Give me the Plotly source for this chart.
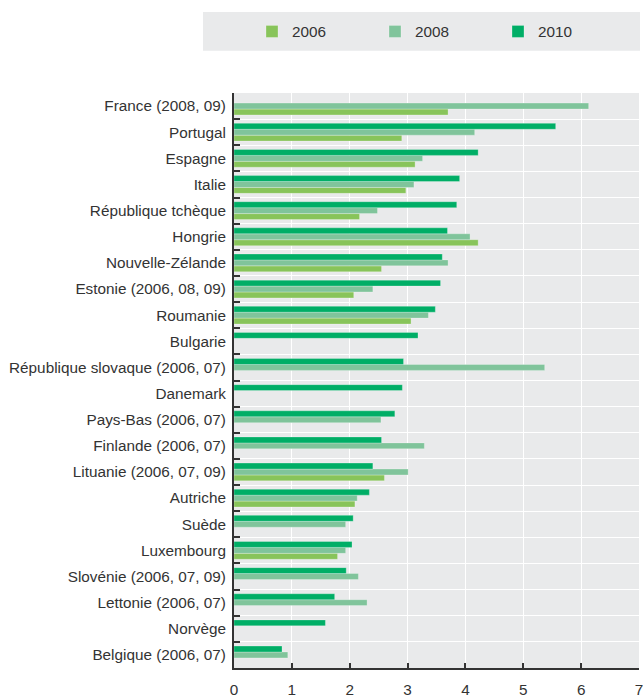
import plotly.graph_objects as go

categories = [
    "France (2008, 09)", "Portugal", "Espagne", "Italie", "République tchèque",
    "Hongrie", "Nouvelle-Zélande", "Estonie (2006, 08, 09)", "Roumanie", "Bulgarie",
    "République slovaque (2006, 07)", "Danemark", "Pays-Bas (2006, 07)",
    "Finlande (2006, 07)", "Lituanie (2006, 07, 09)", "Autriche", "Suède",
    "Luxembourg", "Slovénie (2006, 07, 09)", "Lettonie (2006, 07)", "Norvège",
    "Belgique (2006, 07)",
]
v2006 = [3.70, 2.90, 3.13, 2.97, 2.17, 4.22, 2.55, 2.07, 3.06, None,
         None, None, None, None, 2.60, 2.09, None, 1.79, None, None, None, None]
v2008 = [6.13, 4.16, 3.26, 3.11, 2.48, 4.08, 3.70, 2.40, 3.36, None,
         5.37, None, 2.54, 3.29, 3.01, 2.13, 1.93, 1.93, 2.15, 2.30, None, 0.93]
v2010 = [None, 5.56, 4.22, 3.90, 3.85, 3.69, 3.60, 3.57, 3.48, 3.18,
         2.93, 2.91, 2.78, 2.55, 2.40, 2.34, 2.06, 2.04, 1.94, 1.74, 1.58, 0.83]
series_names = ["2006", "2008", "2010"]
x_ticks = [0, 1, 2, 3, 4, 5, 6, 7]

colors = ["#88C45A", "#80C49B", "#00AE66"]
FONT = "Liberation Sans, Arial, sans-serif"
TXT = "#333333"
FS = 15.3

fig = go.Figure()
for name, vals, col in zip(series_names, [v2006, v2008, v2010], colors):
    fig.add_trace(go.Bar(
        y=categories, x=vals, name=name, orientation="h",
        marker=dict(color=col, line=dict(color="rgba(255,255,255,0.45)", width=0.6)),
    ))

W, H = 643, 698
L, R, T, B = 234, 4, 93, 30
PW, PH = W - L - R, H - T - B

fig.update_layout(
    width=W, height=H,
    margin=dict(l=L, r=R, t=T, b=B, autoexpand=False),
    paper_bgcolor="white",
    plot_bgcolor="#E9EAEB",
    barmode="group",
    bargap=0.32,
    bargroupgap=0,
    font=dict(family=FONT, size=FS, color=TXT),
    showlegend=True,
    legend=dict(
        orientation="h",
        x=(252 - L) / PW, xanchor="left",
        y=1 + (T - 15) / PH, yanchor="top",
        bgcolor="rgba(0,0,0,0)",
        entrywidth=78,
        font=dict(family=FONT, size=FS, color=TXT),
        traceorder="normal",
    ),
    xaxis=dict(
        range=[0, 7], tickvals=x_ticks, ticktext=[str(t) for t in x_ticks],
        showgrid=True, gridcolor="white", gridwidth=1.2,
        zeroline=False,
        showline=True, linecolor="#333333", linewidth=2,
        ticks="inside", ticklen=5, tickcolor="#333333", tickwidth=2,
        ticklabelstandoff=7,
        ticklabeloverflow="allow",
        automargin=False,
        tickfont=dict(family=FONT, size=FS, color=TXT),
    ),
    yaxis=dict(
        categoryorder="array", categoryarray=list(reversed(categories)),
        showgrid=True, gridcolor="white", gridwidth=1.2,
        tickson="boundaries",
        showline=True, linecolor="#333333", linewidth=2,
        ticks="inside", ticklen=6, tickcolor="#333333", tickwidth=2,
        ticklabelstandoff=3,
        automargin=False,
        tickfont=dict(family=FONT, size=FS, color=TXT),
    ),
    shapes=[dict(
        type="rect", xref="paper", yref="paper",
        x0=(203 - L) / PW, x1=(640 - L) / PW,
        y0=1 + (T - 50.7) / PH, y1=1 + (T - 12) / PH,
        fillcolor="#E9EAEB", line=dict(width=0), layer="below",
    )],
)

# remove the browser's default page margin so the figure fills the window exactly
fig.write_html(
    "out.html",
    config={"displayModeBar": False},
    post_script="document.body.style.margin='0';document.body.style.overflow='hidden';",
)
